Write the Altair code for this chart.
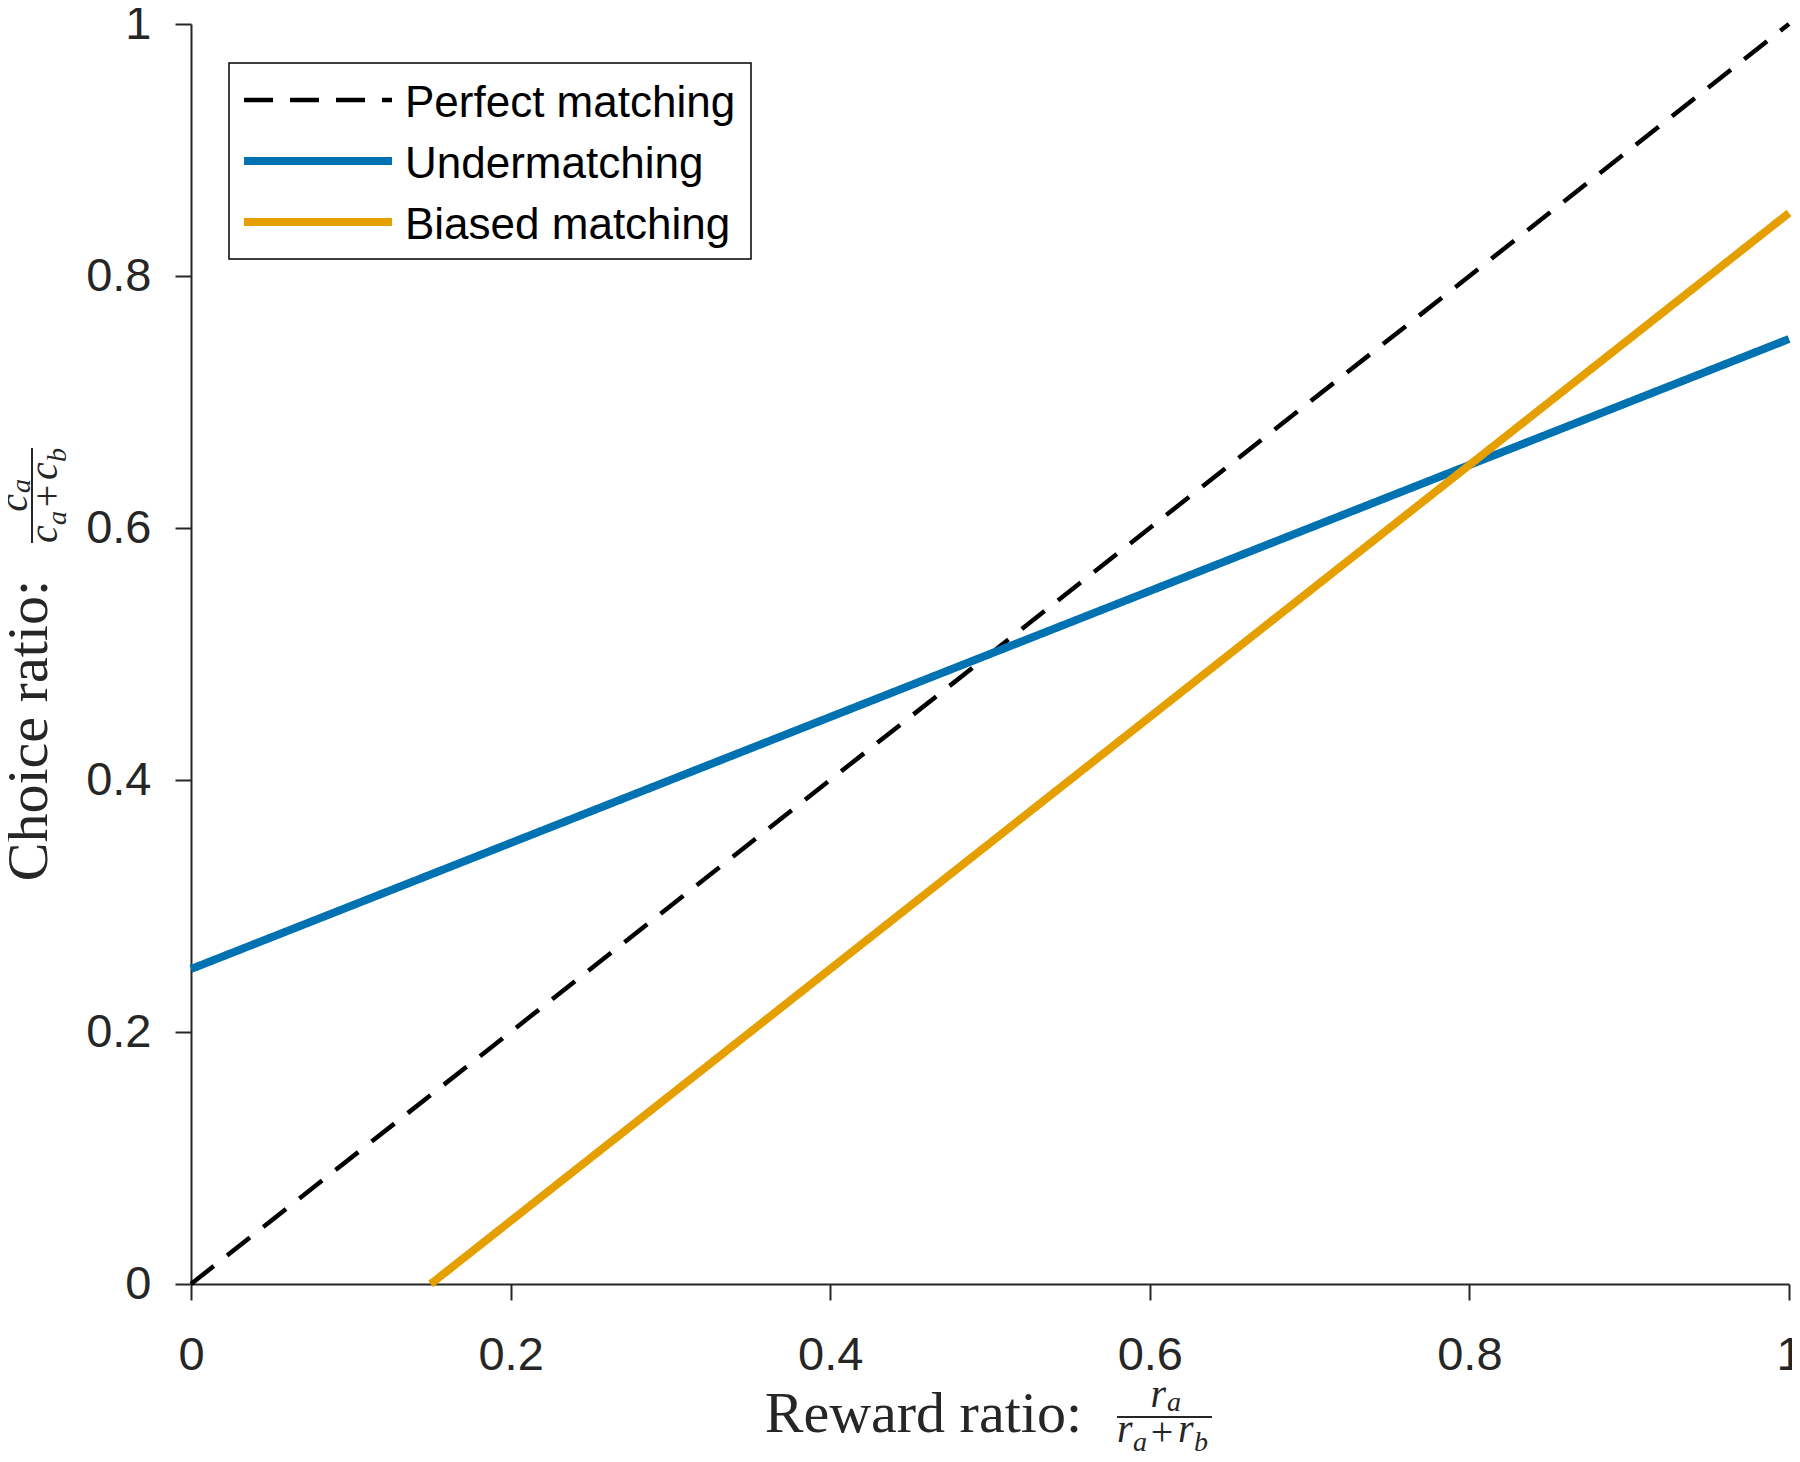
import altair as alt
import pandas as pd

# ---- data ----
series_names = ["Perfect matching", "Undermatching", "Biased matching"]
perfect_x = [0.0, 1.0]
perfect_y = [0.0, 1.0]
under_x = [0.0, 1.0]
under_y = [0.25, 0.75]
biased_x = [0.15, 1.0]
biased_y = [0.0, 0.85]
tick_values = [0, 0.2, 0.4, 0.6, 0.8, 1]

series_x = [perfect_x, under_x, biased_x]
series_y = [perfect_y, under_y, biased_y]

# ---- styles ----
colors = ["#000000", "#0072B2", "#E69F00"]
dashes = [[29, 17], [1, 0], [1, 0]]
widths = [4.5, 8, 8]
W, H = 1598, 1260
AX = "#262626"
SANS = "Liberation Sans"
SERIF = "Liberation Serif"

xscale = alt.Scale(domain=[0, 1], nice=False, zero=False)
yscale = alt.Scale(domain=[0, 1], nice=False, zero=False)
xaxis = alt.Axis(values=tick_values, format="~g", title=None, grid=False,
                 labelPadding=32, tickSize=16, labelFlush=False, labelOverlap=False)
yaxis = alt.Axis(values=tick_values, format="~g", title=None, grid=False,
                 labelPadding=24, tickSize=16, labelFlush=False, labelOverlap=False)

layers = []
for name, xs, ys, c, d, w in zip(series_names, series_x, series_y, colors, dashes, widths):
    df = pd.DataFrame({"x": xs, "y": ys, "series": name})
    lyr = alt.Chart(df).mark_line(color=c, strokeDash=d, strokeWidth=w, strokeCap="butt").encode(
        x=alt.X("x:Q", scale=xscale, axis=xaxis),
        y=alt.Y("y:Q", scale=yscale, axis=yaxis),
        order=alt.Order("x:Q"),
    )
    layers.append(lyr)


def txt(s, x, y, size, font=SERIF, style="normal", align="left",
        baseline="alphabetic", angle=0, color=AX):
    kw = dict(font=font, fontSize=size, fontStyle=style, align=align,
              baseline=baseline, color=color)
    if angle:
        kw["angle"] = angle
    return alt.Chart(pd.DataFrame({"t": [s]})).mark_text(**kw).encode(
        text="t:N", x=alt.value(x), y=alt.value(y))


def rule(x1, x2, y1, y2, color=AX, width=2, dash=None):
    kw = dict(color=color, strokeWidth=width)
    if dash:
        kw["strokeDash"] = dash
    return alt.Chart(pd.DataFrame({"a": [0]})).mark_rule(**kw).encode(
        x=alt.value(x1), x2=alt.value(x2), y=alt.value(y1), y2=alt.value(y2))


# ---- legend (box + entries) ----
box = alt.Chart(pd.DataFrame({"a": [0]})).mark_rect(
    fill="white", stroke="#000000", strokeWidth=1.5).encode(
    x=alt.value(38), x2=alt.value(560), y=alt.value(39), y2=alt.value(235))
layers.append(box)
entry_y = [76, 137, 198]
for name, c, d, w, ey in zip(series_names, colors, dashes, widths, entry_y):
    layers.append(rule(53, 201, ey, ey, color=c, width=w, dash=d))
    layers.append(txt(name, 214, ey + 4, 44, font=SANS, baseline="middle", color="#000000"))

# ---- x title: Reward ratio: r_a / (r_a + r_b) ----
MS, SS = 40, 28
layers.append(txt("Reward ratio:", 891, 1408, 58, align="right"))
layers.append(rule(926, 1021, 1393, 1393, width=2))
layers.append(txt("r", 975, 1383, MS, style="italic", align="right"))
layers.append(txt("a", 976, 1387, SS, style="italic"))
layers.append(txt("r", 926, 1418, MS, style="italic"))
layers.append(txt("a", 942, 1427, SS, style="italic"))
layers.append(txt("+", 971, 1421, MS, align="center"))
layers.append(txt("r", 987, 1418, MS, style="italic"))
layers.append(txt("b", 1003, 1427, SS, style="italic"))

# ---- y title: Choice ratio: c_a / (c_a + c_b) (rotated) ----
layers.append(txt("Choice ratio:", -144, 556, 58, align="right", angle=270))
layers.append(rule(-159, -159, 424, 519, width=2))
layers.append(txt("c", -164, 470, MS, style="italic", align="right", angle=270))
layers.append(txt("a", -161, 469, SS, style="italic", angle=270))
layers.append(txt("c", -134, 519, MS, style="italic", angle=270))
layers.append(txt("a", -125, 501, SS, style="italic", angle=270))
layers.append(txt("+", -131, 472, MS, align="center", angle=270))
layers.append(txt("c", -134, 456, MS, style="italic", angle=270))
layers.append(txt("b", -125, 438, SS, style="italic", angle=270))

chart = alt.layer(*layers).properties(
    width=W, height=H,
    autosize=alt.AutoSizeParams(type="none"),
    padding={"left": 183, "top": 16, "right": 3, "bottom": 170},
    background="white",
).configure_view(stroke=None).configure_axis(
    domainColor=AX, domainWidth=2, tickColor=AX, tickWidth=2,
    labelFont=SANS, labelFontSize=47, labelColor=AX,
)

chart.save("out.html", embed_options={"renderer": "svg", "actions": False})
